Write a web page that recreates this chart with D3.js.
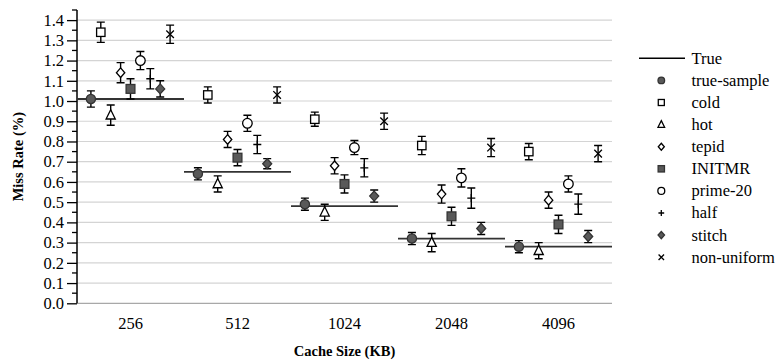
<!DOCTYPE html>
<html><head><meta charset="utf-8">
<script src="https://cdn.jsdelivr.net/npm/d3@7"></script>
<style>body{margin:0;background:#fff}svg{display:block}</style>
</head><body><svg id="c" width="778" height="362"></svg>
<script>
const categories = ["256","512","1024","2048","4096"];
const trueValues = [1.01, 0.65, 0.48, 0.32, 0.28];
const trueSample = [1.01, 0.64, 0.49, 0.32, 0.28];
const trueSampleErr = [0.04, 0.03, 0.03, 0.03, 0.03];
const cold = [1.34, 1.03, 0.91, 0.78, 0.75];
const coldErr = [0.05, 0.04, 0.035, 0.045, 0.04];
const hot = [0.93, 0.59, 0.45, 0.30, 0.26];
const hotErr = [0.05, 0.04, 0.04, 0.045, 0.04];
const tepid = [1.14, 0.81, 0.68, 0.54, 0.51];
const tepidErr = [0.05, 0.04, 0.04, 0.045, 0.04];
const initmr = [1.06, 0.72, 0.59, 0.43, 0.39];
const initmrErr = [0.05, 0.04, 0.045, 0.045, 0.045];
const prime20 = [1.20, 0.89, 0.77, 0.62, 0.59];
const prime20Err = [0.045, 0.04, 0.035, 0.045, 0.04];
const half = [1.11, 0.785, 0.67, 0.52, 0.49];
const halfErr = [0.05, 0.045, 0.045, 0.05, 0.05];
const stitch = [1.06, 0.69, 0.53, 0.37, 0.33];
const stitchErr = [0.04, 0.025, 0.03, 0.03, 0.03];
const nonUniform = [1.33, 1.03, 0.90, 0.77, 0.74];
const nonUniformErr = [0.045, 0.04, 0.04, 0.045, 0.04];
const yTicks = [0,0.1,0.2,0.3,0.4,0.5,0.6,0.7,0.8,0.9,1.0,1.1,1.2,1.3,1.4];

const series = [
  {name:"true-sample", v:trueSample, e:trueSampleErr, sym:"circle"},
  {name:"cold", v:cold, e:coldErr, sym:"square"},
  {name:"hot", v:hot, e:hotErr, sym:"triangle"},
  {name:"tepid", v:tepid, e:tepidErr, sym:"diamond"},
  {name:"INITMR", v:initmr, e:initmrErr, sym:"fsquare"},
  {name:"prime-20", v:prime20, e:prime20Err, sym:"ocircle"},
  {name:"half", v:half, e:halfErr, sym:"plus"},
  {name:"stitch", v:stitch, e:stitchErr, sym:"fdiamond"},
  {name:"non-uniform", v:nonUniform, e:nonUniformErr, sym:"cross"}
];

const svg = d3.select("#c");
const L = 77, R = 612, T = 10, B = 303.3;
const x = d3.scaleBand().domain(categories).range([L, R]).padding(0);
const y = d3.scaleLinear().domain([0, 1.45]).range([B, T]);
const off = d3.scaleLinear().domain([0, 8]).range([-39.6, 39.6]);
const FONT = '"Liberation Serif"';
const GRAY = "#595959";

// gridlines
svg.append("g").selectAll("line").data(yTicks.filter(d=>d>0)).join("line")
  .attr("x1", L).attr("x2", R).attr("y1", d=>y(d)).attr("y2", d=>y(d))
  .attr("stroke", "#d4d4d4").attr("stroke-width", 1.2);
svg.append("line").attr("x1", L).attr("x2", R).attr("y1", y(0)).attr("y2", y(0))
  .attr("stroke", "#a8a8a8").attr("stroke-width", 1.3);

// y axis
const yAxis = d3.axisLeft(y).tickValues(yTicks).tickFormat(d3.format(".1f")).tickSize(10).tickPadding(3);
const ga = svg.append("g").attr("transform", `translate(${L},0)`).call(yAxis);
ga.attr("font-family", null);
ga.select(".domain").remove();
ga.selectAll("text").style("font-family", FONT).attr("font-size", 16.5).attr("fill", "#000");
ga.selectAll("line").attr("stroke", "#000").attr("stroke-width", 1.3);
const minor = d3.range(0, 15).map(i => i*0.1 + 0.05);
svg.append("g").selectAll("line").data(minor).join("line")
  .attr("x1", L-5).attr("x2", L).attr("y1", d=>y(d)).attr("y2", d=>y(d))
  .attr("stroke", "#000").attr("stroke-width", 1.3);
svg.append("line").attr("x1", L).attr("x2", L).attr("y1", y(1.45)).attr("y2", y(0))
  .attr("stroke", "#000").attr("stroke-width", 1.5);

// x axis labels
const xAxis = d3.axisBottom(x).tickSize(0).tickPadding(14);
const gx = svg.append("g").attr("transform", `translate(0,${B})`).call(xAxis);
gx.attr("font-family", null);
gx.select(".domain").remove();
gx.selectAll("text").style("font-family", FONT).attr("font-size", 16.5).attr("fill", "#000");

// axis titles
svg.append("text").attr("x", (L+R)/2).attr("y", 356).attr("text-anchor", "middle")
  .style("font-family", FONT).attr("font-size", 14.5).attr("font-weight", "bold").text("Cache Size (KB)");
svg.append("text").attr("transform", `translate(23,${(T+B)/2}) rotate(-90)`).attr("text-anchor", "middle")
  .style("font-family", FONT).attr("font-size", 14.5).attr("font-weight", "bold").text("Miss Rate (%)");

// True lines
svg.append("g").selectAll("line").data(categories).join("line")
  .attr("x1", d=>x(d)).attr("x2", d=>x(d)+x.bandwidth())
  .attr("y1", (d,i)=>y(trueValues[i])).attr("y2", (d,i)=>y(trueValues[i]))
  .attr("stroke", "#333").attr("stroke-width", 1.8);

function drawSymbol(g, sym, s) {
  const sw = 1.3;
  if (sym === "circle") g.append("circle").attr("r", 4.6*s).attr("fill", GRAY).attr("stroke", "#333").attr("stroke-width", sw);
  else if (sym === "ocircle") g.append("circle").attr("r", 4.8*s).attr("fill", "#fff").attr("stroke", "#000").attr("stroke-width", sw);
  else if (sym === "square") g.append("rect").attr("x", -4.2*s).attr("y", -4.2*s).attr("width", 8.4*s).attr("height", 8.4*s).attr("fill", "#fff").attr("stroke", "#000").attr("stroke-width", sw);
  else if (sym === "fsquare") g.append("rect").attr("x", -4.4*s).attr("y", -4.4*s).attr("width", 8.8*s).attr("height", 8.8*s).attr("fill", GRAY).attr("stroke", "#333").attr("stroke-width", sw);
  else if (sym === "triangle") g.append("path").attr("d", `M0,${-5.5*s}L${4.6*s},${3.8*s}L${-4.6*s},${3.8*s}Z`).attr("fill", "#fff").attr("stroke", "#000").attr("stroke-width", sw);
  else if (sym === "diamond") g.append("path").attr("d", `M0,${-4.8*s}L${4.2*s},0L0,${4.8*s}L${-4.2*s},0Z`).attr("fill", "#fff").attr("stroke", "#000").attr("stroke-width", sw);
  else if (sym === "fdiamond") g.append("path").attr("d", `M0,${-5*s}L${4.5*s},0L0,${5*s}L${-4.5*s},0Z`).attr("fill", GRAY).attr("stroke", "#333").attr("stroke-width", sw);
  else if (sym === "plus") g.append("path").attr("d", `M${-4*s},0H${4*s}M0,${-4*s}V${4*s}`).attr("stroke", "#000").attr("stroke-width", sw);
  else if (sym === "cross") g.append("path").attr("d", `M${-3.8*s},${-3.8*s}L${3.8*s},${3.8*s}M${3.8*s},${-3.8*s}L${-3.8*s},${3.8*s}`).attr("stroke", "#000").attr("stroke-width", sw);
}

// points with error bars
series.forEach((s, si) => {
  const g = svg.append("g");
  categories.forEach((c, ci) => {
    const cx = x(c) + x.bandwidth()/2 + off(si);
    const v = s.v[ci], e = s.e[ci];
    const p = g.append("g");
    p.append("path").attr("d", `M${cx},${y(v+e)}V${y(v-e)}M${cx-4},${y(v+e)}H${cx+4}M${cx-4},${y(v-e)}H${cx+4}`)
      .attr("stroke", "#000").attr("stroke-width", 1.4).attr("fill", "none");
    const m = p.append("g").attr("transform", `translate(${cx},${y(v)})`);
    drawSymbol(m, s.sym, 1);
  });
});

// legend
const lg = svg.append("g");
const rowY = i => 58.3 + i*22.1;
lg.append("line").attr("x1", 639).attr("x2", 685).attr("y1", rowY(0)).attr("y2", rowY(0)).attr("stroke", "#000").attr("stroke-width", 1.5);
lg.append("text").attr("x", 691.5).attr("y", rowY(0)).attr("dy", "0.33em").style("font-family", FONT).attr("font-size", 16.5).text("True");
series.forEach((s, i) => {
  const m = lg.append("g").attr("transform", `translate(661.3,${rowY(i+1)})`);
  drawSymbol(m, s.sym, 0.72);
  lg.append("text").attr("x", 691.5).attr("y", rowY(i+1)).attr("dy", "0.33em").style("font-family", FONT).attr("font-size", 16.5).text(s.name);
});
</script></body></html>
